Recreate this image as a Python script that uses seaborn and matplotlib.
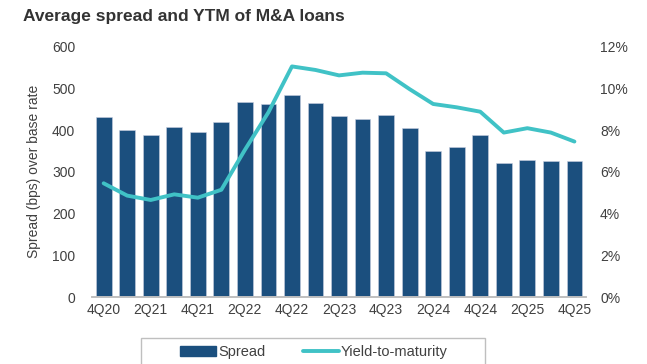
import numpy as np
import pandas as pd
import matplotlib
matplotlib.use("Agg")
import matplotlib.pyplot as plt
import seaborn as sns
from matplotlib.patches import Patch, Rectangle
from matplotlib.lines import Line2D
from matplotlib.ticker import FuncFormatter

quarters = ["4Q20", "1Q21", "2Q21", "3Q21", "4Q21", "1Q22", "2Q22", "3Q22", "4Q22",
            "1Q23", "2Q23", "3Q23", "4Q23", "1Q24", "2Q24", "3Q24", "4Q24",
            "1Q25", "2Q25", "3Q25", "4Q25"]
spread_bps = [432, 400, 388, 407, 396, 420, 467, 462, 484, 464, 434, 426, 435,
              404, 351, 359, 388, 322, 329, 326, 325]
ytm_pct = [5.45, 4.86, 4.65, 4.92, 4.76, 5.14, 7.05, 8.85, 11.05, 10.88, 10.62,
           10.75, 10.72, 9.96, 9.25, 9.09, 8.88, 7.88, 8.09, 7.88, 7.45]

bar_color = "#1b4f7e"
line_color = "#40c2c6"
text_color = "#404040"

sns.set_theme(style="white")
plt.rcParams["font.family"] = ["Liberation Sans", "DejaVu Sans"]

df = pd.DataFrame({"quarter": quarters, "spread": spread_bps, "ytm": ytm_pct})
df["pos"] = np.arange(len(df))

W, H = 647, 364
fig = plt.figure(figsize=(W / 100, H / 100), dpi=100)
ax = fig.add_axes([0.142, 0.184, 0.764, 0.688])

sns.barplot(data=df, x="quarter", y="spread", color=bar_color, width=0.67,
            saturation=1, ax=ax, edgecolor="#c8cfe0", linewidth=0.4)
ax.set_xlim(-0.5, len(quarters) - 0.5)
ax.set_ylim(0, 600)
ax.set_yticks(np.arange(0, 601, 100))
ax.set_xticks(np.arange(0, len(quarters), 2))
ax.set_xticklabels(quarters[::2])
ax.set_xlabel("")
ax.set_ylabel("Spread (bps) over base rate", fontsize=10, color=text_color, labelpad=8)
ax.tick_params(axis="y", length=0, pad=12, labelsize=10, labelcolor=text_color)
ax.tick_params(axis="x", length=0, pad=4, labelsize=10, labelcolor=text_color)

ax2 = ax.twinx()
sns.lineplot(data=df, x="pos", y="ytm", color=line_color, linewidth=2.8, ax=ax2)
ax2.set_ylim(0, 12)
ax2.set_yticks(np.arange(0, 12.1, 2))
ax2.yaxis.set_major_formatter(FuncFormatter(lambda v, _: f"{v:.0f}%"))
ax2.set_ylabel("")
ax2.set_xlabel("")
ax2.tick_params(axis="y", length=0, pad=10, labelsize=10, labelcolor=text_color)
ax2.set_xlim(-0.5, len(quarters) - 0.5)

for a in (ax, ax2):
    for side in ("top", "left", "right"):
        a.spines[side].set_visible(False)
    a.spines["bottom"].set_color("#bfbfbf")
    a.spines["bottom"].set_linewidth(1.2)
    a.grid(False)

fig.text(0.036, 0.955, "Average spread and YTM of M&A loans", fontsize=12.5,
         fontweight="bold", color="#333333", ha="left", va="center")

# legend frame running off the bottom edge
fig.patches.append(Rectangle((140.5 / W, -0.05), 344.5 / W, 0.05 + 1 - 338 / H,
                             transform=fig.transFigure, facecolor="white",
                             edgecolor="#bfbfbf", linewidth=1.0, zorder=1))

handles = [Patch(facecolor=bar_color, edgecolor=bar_color),
           Line2D([0], [0], color=line_color, linewidth=2.8)]
leg = fig.legend(handles, ["Spread", "Yield-to-maturity"], loc="center left",
                 bbox_to_anchor=(180 / W, 1 - 352 / H), ncol=2, frameon=False,
                 fontsize=10.5, handlelength=2.45, handleheight=0.75, columnspacing=2.6,
                 handletextpad=0.15, borderpad=0, borderaxespad=0,
                 labelcolor=text_color)
leg.set_zorder(3)

fig.savefig("out.png", dpi=100)
